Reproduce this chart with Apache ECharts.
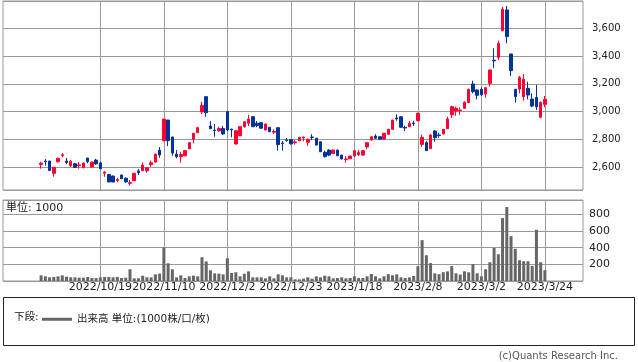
<!DOCTYPE html>
<html><head><meta charset="utf-8">
<script src="https://cdn.jsdelivr.net/npm/echarts@6/dist/echarts.min.js"></script>
<style>html,body{margin:0;padding:0;background:#fff}#c{width:638px;height:362px}</style>
</head><body><div id="c"></div>
<script>
const dates = [
'2022/9/28','2022/9/29','2022/9/30',
'2022/10/3','2022/10/4','2022/10/5','2022/10/6','2022/10/7','2022/10/11','2022/10/12','2022/10/13','2022/10/14','2022/10/17','2022/10/18','2022/10/19','2022/10/20','2022/10/21','2022/10/24','2022/10/25','2022/10/26','2022/10/27','2022/10/28','2022/10/31',
'2022/11/1','2022/11/2','2022/11/4','2022/11/7','2022/11/8','2022/11/9','2022/11/10','2022/11/11','2022/11/14','2022/11/15','2022/11/16','2022/11/17','2022/11/18','2022/11/21','2022/11/22','2022/11/24','2022/11/25','2022/11/28','2022/11/29','2022/11/30',
'2022/12/1','2022/12/2','2022/12/5','2022/12/6','2022/12/7','2022/12/8','2022/12/9','2022/12/12','2022/12/13','2022/12/14','2022/12/15','2022/12/16','2022/12/19','2022/12/20','2022/12/21','2022/12/22','2022/12/23','2022/12/26','2022/12/27','2022/12/28','2022/12/29','2022/12/30',
'2023/1/4','2023/1/5','2023/1/6','2023/1/10','2023/1/11','2023/1/12','2023/1/13','2023/1/16','2023/1/17','2023/1/18','2023/1/19','2023/1/20','2023/1/23','2023/1/24','2023/1/25','2023/1/26','2023/1/27','2023/1/30','2023/1/31',
'2023/2/1','2023/2/2','2023/2/3','2023/2/6','2023/2/7','2023/2/8','2023/2/9','2023/2/10','2023/2/13','2023/2/14','2023/2/15','2023/2/16','2023/2/17','2023/2/20','2023/2/21','2023/2/22','2023/2/24','2023/2/27','2023/2/28',
'2023/3/1','2023/3/2','2023/3/3','2023/3/6','2023/3/7','2023/3/8','2023/3/9','2023/3/10','2023/3/13','2023/3/14','2023/3/15','2023/3/16','2023/3/17','2023/3/20','2023/3/22','2023/3/23','2023/3/24'
];
const tickLabels = ['2022/10/19','2022/11/10','2022/12/2','2022/12/23','2023/1/18','2023/2/8','2023/3/2','2023/3/24'];

const open = [2620,2645,2645,2557,2640,2685,2645,2612,2626,2612,2598,2667,2602,2652,2632,2558,2548,2537,2505,2545,
2522,2485,2504,2574,2576,2575,2620,2638,2724,2791,2940,2818,2695,2676,2683,2734,2802,2849,2998,3108,
2897,2868,2862,2880,3000,2875,2768,2827,2892,2917,2964,2917,2921,2868,2888,2853,2885,2775,2797,2800,
2777,2791,2812,2780,2818,2809,2784,2708,2724,2700,2724,2688,2655,2662,2681,2692,2688,2746,2796,2825,
2820,2804,2838,2874,2955,2964,2887,2892,2919,2935,2765,2777,2734,2861,2832,2840,2878,2978,3005,3008,
3024,3065,3199,3156,3161,3127,3204,3370,3391,3583,3732,3415,3161,3163,3108,3168,3091,3103,2960,3053];
const close = [2630,2640,2577,2600,2665,2690,2635,2643,2600,2618,2631,2641,2638,2625,2590,2566,2495,2494,2512,2518,
2495,2490,2557,2562,2616,2597,2633,2695,2688,2947,2792,2703,2676,2693,2720,2777,2845,2885,3046,2993,
2878,2864,2880,2840,2868,2870,2863,2892,2928,2947,2892,2900,2881,2911,2856,2858,2763,2770,2794,2768,
2783,2816,2818,2802,2814,2760,2712,2677,2688,2724,2683,2660,2660,2681,2720,2706,2720,2777,2820,2809,
2802,2845,2874,2940,2948,2888,2883,2917,2915,2989,2816,2720,2832,2813,2828,2873,2947,3036,3024,3012,
3068,3161,3144,3118,3122,3173,3300,3365,3492,3737,3540,3295,3108,3247,3233,3120,3041,3036,3068,3089];
const low = [2590,2612,2575,2533,2633,2672,2622,2604,2596,2590,2592,2629,2600,2618,2585,2532,2494,2494,2492,2516,
2490,2468,2502,2545,2573,2561,2604,2634,2669,2788,2753,2683,2665,2633,2680,2730,2772,2849,2983,2964,
2876,2820,2858,2832,2862,2816,2763,2825,2885,2897,2890,2888,2880,2866,2854,2840,2720,2720,2785,2766,
2763,2789,2787,2755,2795,2758,2710,2670,2680,2698,2681,2657,2633,2660,2678,2681,2686,2730,2793,2803,
2800,2802,2836,2872,2935,2885,2861,2890,2897,2933,2748,2720,2734,2784,2813,2837,2876,2955,2971,2975,
3020,3062,3132,3089,3113,3101,3180,3314,3372,3578,3492,3257,3065,3132,3079,3089,3032,3012,2952,3032];
const high = [2640,2660,2648,2602,2668,2703,2667,2653,2632,2638,2633,2668,2640,2662,2640,2573,2553,2542,2525,2546,
2527,2509,2560,2588,2635,2600,2648,2697,2746,2950,2942,2820,2724,2712,2722,2782,2847,2892,3072,3113,
2931,2911,2892,2897,3002,2876,2866,2895,2930,2978,2968,2933,2924,2915,2890,2873,2888,2789,2811,2802,
2796,2818,2820,2806,2838,2812,2786,2720,2730,2728,2727,2690,2681,2683,2723,2724,2722,2780,2822,2838,
2822,2847,2876,2942,2981,2966,2900,2933,2935,2992,2835,2790,2840,2868,2850,2876,2964,3043,3036,3031,
3075,3166,3223,3160,3175,3176,3302,3456,3511,3753,3760,3416,3163,3257,3271,3216,3132,3192,3072,3113];
const volume = [68,56,44,48,56,68,52,44,44,40,40,48,36,36,44,48,48,44,48,36,
40,141,32,32,64,44,44,80,88,402,213,141,44,68,36,56,64,56,285,235,
128,92,88,80,273,96,104,56,88,116,44,44,44,32,56,32,80,68,44,44,
20,20,28,44,28,56,44,64,56,32,36,44,32,36,56,36,36,56,84,56,
32,56,82,68,80,44,36,44,60,177,490,309,215,92,82,106,116,179,92,78,
116,104,203,92,56,141,225,396,321,755,888,538,386,249,237,237,181,615,225,130];

const PAD = 9;
const cats = [];
for (let i = 0; i < PAD; i++) cats.push('pre' + i);
dates.forEach(d => cats.push(d));
for (let i = 0; i < PAD; i++) cats.push('post' + i);
const tickSet = new Set(tickLabels);
const showTick = (idx, val) => tickSet.has(val);

const candleData = dates.map((d, i) => [d, open[i], close[i], low[i], high[i]]);
const volData = dates.map((d, i) => [d, volume[i]]);

const FONT = "'DejaVu Sans', 'Noto Sans CJK JP', sans-serif";
const chart = echarts.init(document.getElementById('c'), null, {renderer: 'canvas'});
chart.setOption({
  animation: false,
  backgroundColor: '#fff',
  textStyle: {fontFamily: FONT},
  grid: [
    {left: 3, top: 1, width: 580, height: 189, show: true, borderColor: '#999', borderWidth: 1, containLabel: false},
    {left: 3, top: 200, width: 580, height: 81, show: true, borderColor: '#999', borderWidth: 1, containLabel: false}
  ],
  xAxis: [
    {type: 'category', gridIndex: 0, data: cats, boundaryGap: false,
     axisLine: {show: false}, axisTick: {show: false}, axisLabel: {show: false},
     splitLine: {show: true, interval: showTick, lineStyle: {color: '#999', width: 1}}},
    {type: 'category', gridIndex: 1, data: cats, boundaryGap: false,
     axisLine: {show: false}, axisTick: {show: false},
     axisLabel: {show: true, interval: showTick, fontSize: 11, color: '#222', margin: 1, fontFamily: FONT, hideOverlap: false},
     splitLine: {show: true, interval: showTick, lineStyle: {color: '#999', width: 1}}}
  ],
  yAxis: [
    {type: 'value', gridIndex: 0, position: 'right', min: 2437, max: 3796, splitNumber: 7, scale: true,
     axisLine: {show: false}, axisTick: {show: false},
     axisLabel: {margin: 9, fontSize: 10, color: '#222', fontFamily: FONT, showMinLabel: false, showMaxLabel: false,
       formatter: v => v.toLocaleString('en-US')},
     splitLine: {show: true, lineStyle: {color: '#999', width: 1}}},
    {type: 'value', gridIndex: 1, position: 'right', min: 0, max: 972, splitNumber: 5,
     axisLine: {show: false}, axisTick: {show: false},
     axisLabel: {margin: 6, fontSize: 11, color: '#222', fontFamily: FONT, showMinLabel: false, showMaxLabel: false},
     splitLine: {show: true, lineStyle: {color: '#999', width: 1}}}
  ],
  legend: {
    data: [{name: '出来高 単位:(1000株/口/枚)', icon: 'rect'}],
    left: 37, top: 309, itemWidth: 30, itemHeight: 3, selectedMode: false,
    textStyle: {fontSize: 10.5, color: '#222', fontFamily: FONT}
  },
  series: [
    {type: 'candlestick', name: 'price', xAxisIndex: 0, yAxisIndex: 0, data: candleData,
     encode: {x: 0, y: [1, 2, 3, 4]}, barWidth: 3,
     itemStyle: {color: '#ff0033', color0: '#003399', borderColor: '#ff0033', borderColor0: '#003399', borderWidth: 1}},
    {type: 'bar', name: '出来高 単位:(1000株/口/枚)', xAxisIndex: 1, yAxisIndex: 1, data: volData,
     encode: {x: 0, y: 1}, barWidth: 3, itemStyle: {color: '#666'}}
  ],
  graphic: [
    {type: 'text', left: 6, top: 203, style: {text: '単位: 1000', fontSize: 11, fill: '#222', fontFamily: FONT}},
    {type: 'rect', shape: {x: 3.5, y: 297.5, width: 631, height: 48}, style: {fill: 'none', stroke: '#222', lineWidth: 1}},
    {type: 'text', left: 14, top: 312, style: {text: '下段:', fontSize: 10.5, fill: '#222', fontFamily: FONT}},
    {type: 'text', right: 20, top: 351, style: {text: '(c)Quants Research Inc.', fontSize: 10, fill: '#555', fontFamily: FONT}}
  ]
});
</script></body></html>
